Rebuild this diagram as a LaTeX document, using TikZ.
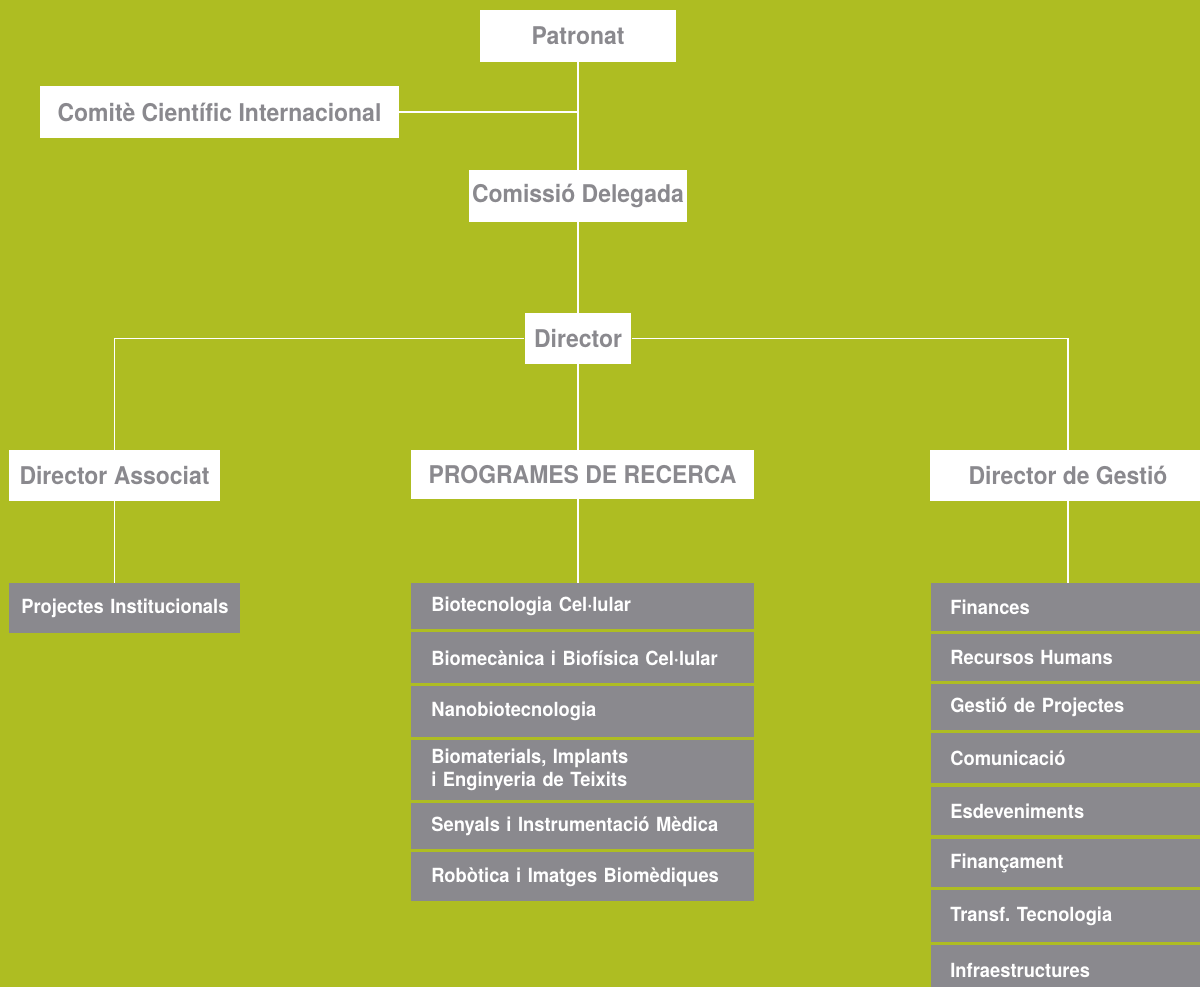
\documentclass[tikz,border=0pt]{standalone}
\usepackage{fontspec}
\setmainfont{TeX Gyre Heros}[FakeStretch=0.94]
\definecolor{fons}{RGB}{174,189,34}
\definecolor{gris}{RGB}{138,137,142}
\begin{document}
\begin{tikzpicture}[x=0.02cm, y=-0.02cm,
    carrec/.style={rectangle, fill=white, text=gris, inner sep=0pt,
        font=\fontsize{13.9}{16}\selectfont\bfseries, minimum height=1.04cm},
    area/.style={rectangle, fill=gris, text=white, inner ysep=0pt,
        font=\fontsize{11.1}{13.1}\selectfont\bfseries, align=left},
    programa/.style={area, inner xsep=0.4cm, text width=6.06cm},
    gestio/.style={area, inner xsep=0.38cm, text width=4.82cm},
    linia/.style={draw=white, line width=0.9pt},
]

% Fons
\clip (0,0) rectangle (1200,987);
\fill[fons] (0,0) rectangle (1200,987);

% Organs de govern
\node[carrec, minimum width=3.92cm] (patronat) at (578,36) {Patronat};
\node[carrec, minimum width=7.18cm] (comite) at (219.5,112) {Comitè Científic Internacional};
\node[carrec, minimum width=4.38cm] (comissio) at (578,196) {Comissió Delegada};
\node[carrec, minimum width=2.14cm, minimum height=1.02cm] (director) at (578,338.5) {Director};

% Direccions
\node[carrec, minimum width=4.22cm, minimum height=1.02cm] (dirassoc) at (114.5,475.5) {Director Associat};
\node[carrec, minimum width=6.86cm, minimum height=0.98cm] (programes) at (582.5,474.5) {PROGRAMES DE RECERCA};
\node[carrec, minimum width=5.52cm, minimum height=1.02cm] (dirgestio) at (1068,475.5) {Director de Gestió};

% Projectes
\node[area, anchor=north west, inner xsep=0.24cm, text width=4.14cm, minimum height=1cm] (projectes) at (9,583) {\mbox{Projectes Institucionals}};

% Programes de recerca
\node[programa, anchor=north west, minimum height=0.92cm] (prog1) at (411,583) {Biotecnologia Cel·lular};
\node[programa, anchor=north west, minimum height=1.02cm] (prog2) at (411,632) {Biomecànica i Biofísica Cel·lular};
\node[programa, anchor=north west, minimum height=1.02cm] (prog3) at (411,686) {Nanobiotecnologia};
\node[programa, anchor=north west, minimum height=1.2cm] (prog4) at (411,740) {Biomaterials, Implants\\i Enginyeria de Teixits};
\node[programa, anchor=north west, minimum height=0.92cm] (prog5) at (411,803) {Senyals i Instrumentació Mèdica};
\node[programa, anchor=north west, minimum height=0.98cm] (prog6) at (411,852) {Robòtica i Imatges Biomèdiques};

% Gestio
\node[gestio, anchor=north west, minimum height=0.96cm] (ges1) at (931,583) {Finances};
\node[gestio, anchor=north west, minimum height=0.94cm] (ges2) at (931,634) {Recursos Humans};
\node[gestio, anchor=north west, minimum height=0.92cm] (ges3) at (931,684) {Gestió de Projectes};
\node[gestio, anchor=north west, minimum height=1cm] (ges4) at (931,733) {Comunicació};
\node[gestio, anchor=north west, minimum height=0.96cm] (ges5) at (931,787) {Esdeveniments};
\node[gestio, anchor=north west, minimum height=0.96cm] (ges6) at (931,839) {Finançament};
\node[gestio, anchor=north west, minimum height=1.04cm] (ges7) at (931,890) {Transf.\ Tecnologia};
\node[gestio, anchor=north west, minimum height=1cm] (ges8) at (931,945) {Infraestructures};

% Linies
\draw[linia] (patronat.south) -- (comissio.north);
\draw[linia] (comite.east) -- (comite.east -| patronat.south);
\draw[linia] (comissio.south) -- (director.north);
\draw[linia] (director.west) -| (dirassoc.north);
\draw[linia] (director.east) -| (dirgestio.north);
\draw[linia] (director.south) -- (director.south |- programes.north);
\draw[linia] (programes.south -| director.south) -- (prog1.north -| director.south);
\draw[linia] (dirassoc.south) -- (dirassoc.south |- projectes.north);
\draw[linia] (dirgestio.south) -- (ges1.north -| dirgestio.south);

\end{tikzpicture}
\end{document}
